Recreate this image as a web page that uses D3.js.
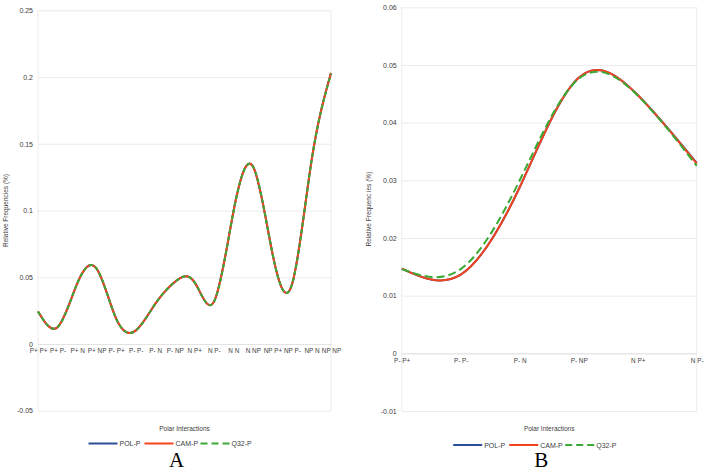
<!DOCTYPE html>
<html lang="en">
<head>
    <meta charset="UTF-8">
    <title>Polar Interactions - Relative Frequencies</title>
    <script src="https://d3js.org/d3.v7.min.js"></script>
    <style>
        body {
            margin: 0;
            padding: 0;
            background-color: #ffffff;
            font-family: 'Liberation Sans', Arial, sans-serif;
        }
        .grid line { stroke: #ececec; }
        .tick text { fill: #404040; }
    </style>
</head>
<body>
<div id="chart"></div>
<script>
    // Panel A: all polar interaction pairs
    var categoriesA = ["P+ P+", "P+ P-", "P+ N", "P+ NP", "P- P+", "P- P-", "P- N", "P- NP",
                       "N P+", "N P-", "N N", "N NP", "NP P+", "NP P-", "NP N", "NP NP"];
    var polA = [0.0244, 0.0126, 0.045, 0.0565, 0.019, 0.0100, 0.030, 0.0465, 0.0465, 0.0314, 0.0987, 0.1333, 0.068, 0.0445, 0.137, 0.203];
    var camA = [0.0244, 0.0126, 0.045, 0.0565, 0.019, 0.0100, 0.030, 0.0465, 0.0465, 0.0314, 0.0987, 0.133, 0.068, 0.0445, 0.137, 0.203];
    var q32A = [0.0244, 0.0126, 0.045, 0.0565, 0.019, 0.0100, 0.030, 0.0465, 0.0465, 0.0314, 0.0987, 0.133, 0.068, 0.0445, 0.137, 0.2025];
    var ticksA = [-0.05, 0, 0.05, 0.1, 0.15, 0.2, 0.25];

    // Panel B: P- / N subset
    var categoriesB = ["P- P+", "P- P-", "P- N", "P- NP", "N P+", "N P-"];
    var polB = [0.0147, 0.01365, 0.0288, 0.0478, 0.0448, 0.0330];
    var camB = [0.0147, 0.01365, 0.0288, 0.0478, 0.0448, 0.0329];
    var q32B = [0.0146, 0.0146, 0.0300, 0.0476, 0.0447, 0.0325];
    var ticksB = [-0.01, 0, 0.01, 0.02, 0.03, 0.04, 0.05, 0.06];

    var seriesNames = ["POL-P", "CAM-P", "Q32-P"];
    var colors = ["#2a4f96", "#f4431f", "#3aaa35"];

    var svg = d3.select("#chart")
        .append("svg")
        .attr("width", 708)
        .attr("height", 471);

    function fmt(d) { return String(+d.toFixed(2)); }

    function drawPanel(p) {
        var g = svg.append("g");

        var x = d3.scalePoint()
            .domain(p.categories)
            .range([p.left, p.right]);

        var y = d3.scaleLinear()
            .domain([p.ticks[0], p.ticks[p.ticks.length - 1]])
            .range([p.bottom, p.top]);

        // gridlines + y labels
        g.append("g")
            .attr("class", "grid")
            .attr("transform", "translate(" + p.left + ",0)")
            .call(d3.axisLeft(y).tickValues(p.ticks).tickFormat(fmt)
                .tickSize(-(p.right - p.left)).tickPadding(5))
            .call(function (s) { s.select(".domain").remove(); })
            .selectAll("text")
            .style("font-size", "7px")
            .style("font-family", "'Liberation Sans', Arial, sans-serif");

        // left and right frame lines
        g.append("line")
            .attr("x1", p.left).attr("x2", p.left)
            .attr("y1", p.top).attr("y2", p.bottom)
            .attr("stroke", "#ececec");
        g.append("line")
            .attr("x1", p.right).attr("x2", p.right)
            .attr("y1", p.top).attr("y2", p.bottom)
            .attr("stroke", "#ececec");

        // category axis at zero
        var xa = g.append("g")
            .attr("transform", "translate(0," + y(0) + ")")
            .call(d3.axisBottom(x).tickSize(0).tickPadding(5));
        xa.select(".domain").attr("stroke", "#e2e2e2");
        xa.selectAll("text")
            .style("font-size", "6.4px")
            .style("font-family", "'Liberation Sans', Arial, sans-serif");

        var line = d3.line()
            .x(function (d, i) { return x(p.categories[i]); })
            .y(function (d) { return y(d); })
            .curve(d3.curveNatural);

        p.series.forEach(function (s, k) {
            g.append("path")
                .datum(s)
                .attr("fill", "none")
                .attr("stroke", colors[k])
                .attr("stroke-width", 2)
                .attr("stroke-dasharray", k === 2 ? p.dash : null)
                .attr("d", line);
        });

        // y axis title
        g.append("text")
            .attr("transform", "translate(" + p.titleX + "," + ((p.top + p.bottom) / 2) + ") rotate(-90)")
            .attr("text-anchor", "middle")
            .style("font-size", "6.5px")
            .attr("fill", "#404040")
            .text(p.yTitle);

        var cx = (p.left + p.right) / 2;

        // x axis title
        g.append("text")
            .attr("x", cx)
            .attr("y", 431)
            .attr("text-anchor", "middle")
            .style("font-size", "6.5px")
            .attr("fill", "#404040")
            .text("Polar Interactions");

        // legend
        var lx = cx - 96;
        seriesNames.forEach(function (name, k) {
            var ox = lx + k * 56;
            g.append("line")
                .attr("x1", ox).attr("x2", ox + 29)
                .attr("y1", p.legendY).attr("y2", p.legendY)
                .attr("stroke", colors[k])
                .attr("stroke-width", 2)
                .attr("stroke-dasharray", k === 2 ? "7,4" : null);
            g.append("text")
                .attr("x", ox + 31)
                .attr("y", p.legendY + 2.5)
                .style("font-size", "7px")
                .attr("fill", "#404040")
                .text(name);
        });

        // panel letter
        g.append("text")
            .attr("x", cx - 8)
            .attr("y", 467)
            .attr("text-anchor", "middle")
            .style("font-family", "'Liberation Serif', 'Times New Roman', serif")
            .style("font-size", "21px")
            .attr("fill", "#000")
            .text(p.letter);
    }

    drawPanel({
        categories: categoriesA,
        series: [polA, camA, q32A],
        ticks: ticksA,
        left: 38, right: 331, top: 10.3, bottom: 410.7,
        dash: "4,3",
        titleX: 8,
        yTitle: "Relative Frequencies (%)",
        legendY: 443.5,
        letter: "A"
    });

    drawPanel({
        categories: categoriesB,
        series: [polB, camB, q32B],
        ticks: ticksB,
        left: 401.7, right: 696.7, top: 7.3, bottom: 411,
        dash: "8,4",
        titleX: 371,
        yTitle: "Relative Frequenc ies (%)",
        legendY: 445,
        letter: "B"
    });
</script>
</body>
</html>
